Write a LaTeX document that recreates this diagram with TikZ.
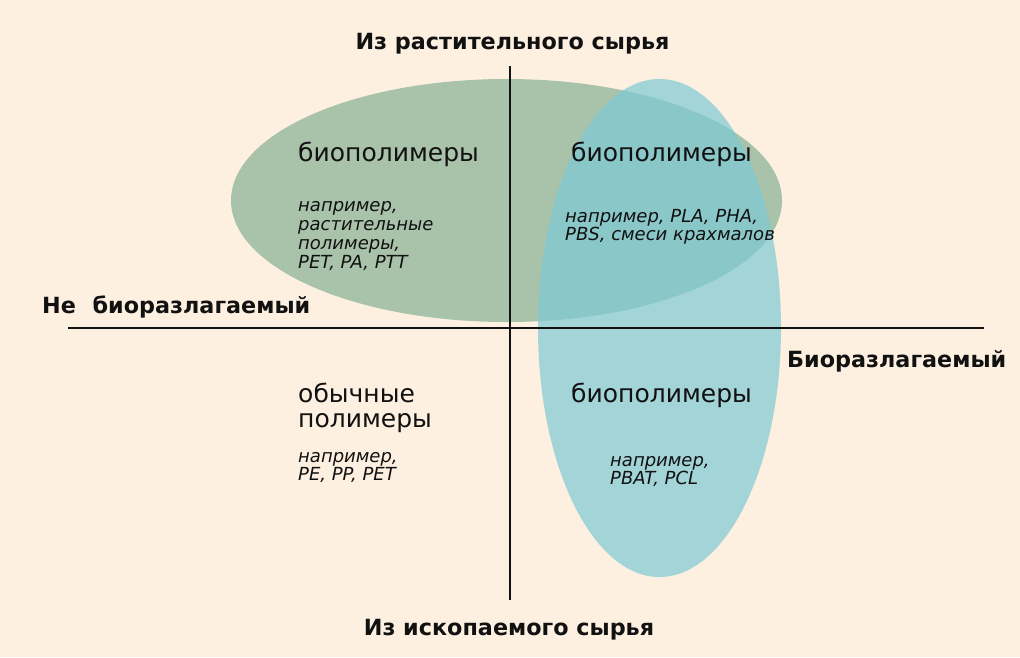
\documentclass[tikz,border=0pt]{standalone}
\usepackage{fontspec}
\setmainfont{DejaVu Sans}
\definecolor{bgc}{HTML}{FDF0E1}
\definecolor{greenc}{HTML}{A9C3AB}
\definecolor{bluec}{HTML}{7EC9D5}
\definecolor{inkc}{HTML}{111111}
\begin{document}
\begin{tikzpicture}[x=1pt,y=-1pt,
  axis/.style={draw=inkc,line width=2pt},
  title/.style={anchor=base,inner sep=0pt,text=inkc,font=\bfseries\fontsize{22.3}{25}\selectfont},
  side/.style={anchor=base west,inner sep=0pt,text=inkc,font=\bfseries\fontsize{22.3}{25}\selectfont},
  head/.style={anchor=base west,inner sep=0pt,text=inkc,font=\fontsize{25}{28}\selectfont},
  ex/.style={anchor=base west,inner sep=0pt,text=inkc,font=\itshape\fontsize{18}{19}\selectfont}]
\fill[bgc] (0,0) rectangle (1020,657);
\useasboundingbox (0,0) rectangle (1020,657);
% ellipses
\fill[greenc] (506.5,200.5) ellipse [x radius=275.5pt, y radius=121.5pt];
\fill[bluec,fill opacity=0.7] (659.5,328) ellipse [x radius=121.5pt, y radius=249pt];
% axes
\coordinate (vt) at (510,66);
\coordinate (vb) at (510,600);
\coordinate (hl) at (68,328);
\coordinate (hr) at (984,328);
\draw[axis] (vt) -- (vb);
\draw[axis] (hl) -- (hr);
% axis labels
\node[title] (top) at (512.5,49) {Из растительного сырья};
\node[title] (bot) at (509,635) {Из ископаемого сырья};
\node[side] (nbio) at (42,313) {Не\hspace{0.4em} биоразлагаемый};
\node[side] (bio) at (787,367) {Биоразлагаемый};
% top-left
\node[head] (tlh) at (298,161) {биополимеры};
\node[ex] (tl1) at (298,211) {например,};
\node[ex] (tl2) at (298,230) {растительные};
\node[ex] (tl3) at (298,249) {полимеры,};
\node[ex] (tl4) at (298,268) {PET, PA, PTT};
% top-right
\node[head] (trh) at (571,161) {биополимеры};
\node[ex] (tr1) at (565,222) {например, PLA, PHA,};
\node[ex] (tr2) at (565,240) {PBS, смеси крахмалов};
% bottom-right
\node[head] (brh) at (571,402) {биополимеры};
\node[ex] (br1) at (610,466) {например,};
\node[ex] (br2) at (610,484) {PBAT, PCL};
% bottom-left
\node[head] (blh1) at (298,402) {обычные};
\node[head] (blh2) at (298,427) {полимеры};
\node[ex] (bl1) at (298,462) {например,};
\node[ex] (bl2) at (298,480) {PE, PP, PET};
\end{tikzpicture}
\end{document}
